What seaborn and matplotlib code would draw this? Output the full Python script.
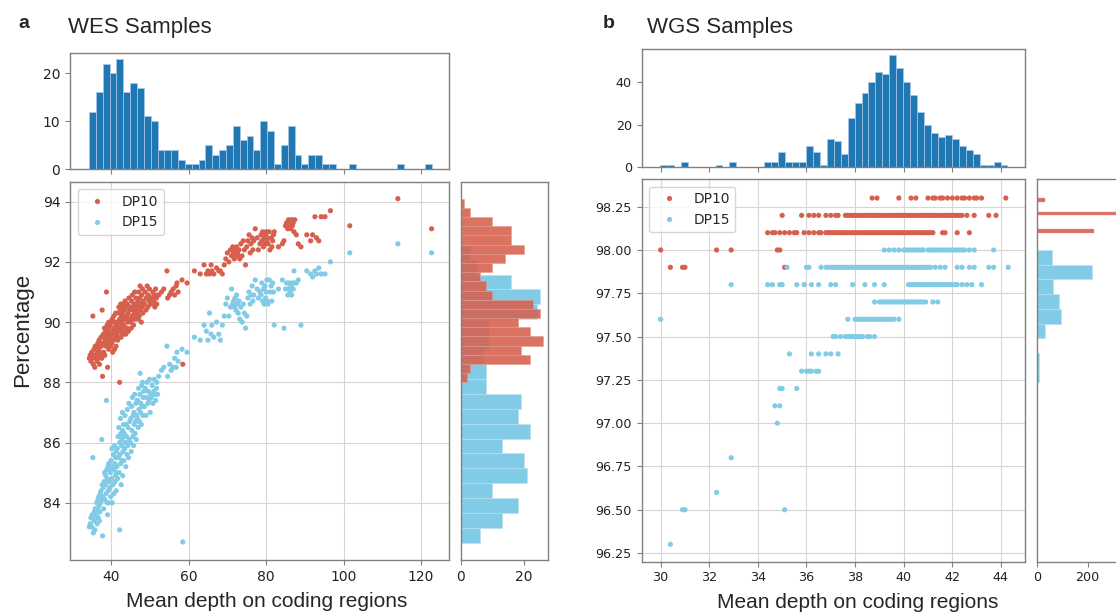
import numpy as np
import pandas as pd
import matplotlib
matplotlib.use("Agg")
import matplotlib.pyplot as plt
import seaborn as sns

RED = "#d6604d"
BLUE = "#82cbe6"
HIST = "#1f77b4"

# ---------------- WES samples ----------------
wes_depth = [
    34.4, 34.6, 34.8, 35.0, 35.1, 35.3, 35.4, 35.6, 35.7, 35.8, 35.9, 36.0,
    36.2, 36.3, 36.4, 36.5, 36.6, 36.7, 36.8, 36.9, 37.0, 37.1, 37.2, 37.3, 37.4, 37.5, 37.6, 37.7,
    37.8, 37.9, 38.0, 38.1, 38.2, 38.3, 38.4, 38.5, 38.6, 38.7, 38.8, 38.9, 39.0, 39.0, 39.1, 39.2, 39.3, 39.4, 39.4, 39.5, 39.5, 39.6,
    39.7, 39.8, 39.9, 40.0, 40.1, 40.2, 40.3, 40.4, 40.5, 40.6, 40.7, 40.8, 40.9, 41.0, 41.0, 41.1, 41.2, 41.3, 41.3, 41.4,
    41.5, 41.6, 41.7, 41.8, 41.9, 42.0, 42.1, 42.2, 42.2, 42.3, 42.4, 42.5, 42.5, 42.6, 42.7, 42.8, 42.8, 42.9, 43.0, 43.0, 43.1, 43.1, 43.2,
    43.3, 43.4, 43.5, 43.6, 43.7, 43.8, 43.9, 44.0, 44.1, 44.2, 44.3, 44.4, 44.5, 44.6, 44.7, 44.8,
    45.0, 45.1, 45.2, 45.3, 45.4, 45.5, 45.6, 45.7, 45.8, 45.9, 46.0, 46.1, 46.2, 46.3, 46.4, 46.5, 46.6, 46.7,
    46.8, 46.9, 47.0, 47.1, 47.2, 47.3, 47.4, 47.5, 47.6, 47.7, 47.8, 47.9, 48.0, 48.1, 48.2, 48.3, 48.4,
    48.6, 48.8, 49.0, 49.1, 49.3, 49.5, 49.6, 49.8, 49.9, 50.1, 50.2,
    50.4, 50.6, 50.8, 51.0, 51.1, 51.3, 51.5, 51.7, 51.8, 52.0,
    52.3, 53.0, 53.6, 54.4, 54.6, 55.1, 55.5, 56.0, 56.4, 56.8, 57.0, 57.3,
    58.3, 58.5, 59.6, 61.5, 63.0, 64.0,
    64.6, 65.0, 65.4, 65.8, 66.0, 66.5, 67.2, 67.8, 68.2, 68.7, 69.2, 69.6,
    70.0, 70.4, 70.8, 71.1, 71.4, 71.6, 71.8, 72.0, 72.2, 72.4, 72.6, 72.8, 73.0, 73.2,
    73.5, 73.8, 74.1, 74.4, 74.7, 75.0, 75.3, 75.6, 75.9, 76.1, 76.4, 76.6, 76.8,
    77.2, 77.7, 78.0, 78.4, 78.7, 78.9, 79.1, 79.3, 79.5, 79.7, 79.9, 80.0, 80.2, 80.3,
    80.5, 80.8, 81.0, 81.3, 81.5, 81.7, 81.9, 82.1, 83.2,
    84.2, 84.6, 85.0, 85.3, 85.6, 85.8, 86.0, 86.2, 86.4, 86.6, 86.8, 87.0, 87.2, 87.4,
    87.8, 88.3, 89.0, 90.5, 91.5, 92.0, 92.6, 93.0, 93.6, 94.2, 95.2, 96.6,
    101.6, 114.0, 122.7,
]
wes_dp10 = [
    88.8, 88.9, 88.7, 89.0, 88.8, 90.2, 88.6, 89.1, 88.9, 88.5, 89.2, 88.8,
    88.9, 89.2, 88.7, 89.0, 89.3, 88.8, 89.1, 89.4, 88.6, 89.0, 89.3, 88.9, 89.5, 89.2, 88.8, 90.4,
    88.2, 89.3, 89.6, 89.0, 89.5, 89.8, 88.9, 89.4, 89.7, 89.2, 91.0, 89.6, 89.9, 89.3, 88.5, 89.7, 89.5, 90.0, 89.1, 89.6, 89.8, 89.4,
    89.5, 89.9, 89.2, 90.0, 89.6, 89.3, 90.1, 89.0, 89.7, 89.4, 90.2, 89.8, 89.1, 90.0, 89.5, 89.7, 90.3, 89.2, 89.9, 89.6,
    89.6, 90.0, 89.4, 90.3, 89.8, 90.5, 89.5, 88.0, 90.1, 89.7, 90.4, 89.9, 90.6, 89.5, 90.2, 89.8, 90.0, 90.5, 89.6, 90.3, 89.9, 90.1, 90.6,
    89.9, 90.4, 89.7, 90.7, 90.1, 89.6, 90.5, 90.2, 89.8, 90.6, 90.0, 90.3, 89.7, 90.8, 90.1, 90.4,
    90.0, 90.5, 89.8, 90.7, 90.2, 90.9, 90.1, 90.4, 89.9, 90.6, 90.3, 91.0, 90.1, 90.5, 90.8, 90.2, 90.6, 90.4,
    90.3, 90.7, 90.1, 91.0, 90.5, 90.2, 90.8, 91.2, 90.4, 90.6, 90.0, 90.9, 90.5, 91.1, 90.3, 90.7, 90.6,
    90.6, 91.0, 90.4, 90.8, 91.2, 90.5, 90.9, 90.7, 91.1, 90.6, 90.8,
    90.8, 90.6, 91.0, 90.7, 90.9, 90.5, 91.1, 90.8, 90.6, 90.9,
    90.9, 91.0, 91.1, 91.7, 90.8, 90.9, 91.0, 91.1, 90.9, 91.2, 91.3, 91.0,
    91.4, 88.6, 91.3, 91.7, 91.6, 91.9,
    91.6, 91.7, 91.6, 91.9, 91.7, 91.6, 91.8, 91.7, 91.7, 91.6, 91.9, 92.1,
    92.3, 92.0, 92.4, 92.2, 92.5, 92.3, 92.1, 92.4, 92.2, 92.5, 92.3, 92.2, 92.4, 92.1,
    92.6, 92.2, 92.7, 92.4, 91.9, 92.5, 92.7, 92.9, 92.3, 92.6, 92.8, 92.4, 92.7,
    93.1, 92.8, 92.4, 92.6, 92.9, 92.7, 93.0, 92.5, 92.8, 92.6, 92.9, 93.0, 92.7, 92.8,
    92.6, 93.0, 92.4, 92.8, 92.5, 92.7, 92.9, 93.0, 92.5,
    92.6, 92.7, 93.2, 93.3, 93.1, 93.4, 93.2, 93.3, 93.1, 93.4, 93.2, 93.3, 93.0, 93.4,
    92.9, 92.6, 92.5, 92.9, 92.7, 92.9, 93.5, 92.8, 92.7, 93.5, 93.5, 93.7,
    93.2, 94.1, 93.1,
]
wes_dp15 = [
    83.2, 83.3, 83.5, 83.2, 83.6, 85.5, 83.0, 83.4, 83.7, 83.1, 83.8, 83.5,
    83.6, 84.0, 83.3, 83.8, 84.1, 83.5, 84.2, 83.9, 83.4, 83.7, 84.3, 84.0, 84.4, 84.1, 86.1, 84.6,
    82.9, 84.2, 84.5, 83.8, 84.7, 85.0, 84.1, 84.6, 84.9, 84.3, 87.4, 85.1, 84.0, 84.8, 83.6, 85.2, 84.4, 85.3, 84.0, 84.7, 85.1, 84.5,
    84.5, 85.0, 84.2, 85.4, 84.8, 85.8, 84.0, 85.2, 84.6, 85.6, 84.3, 85.1, 85.9, 84.7, 85.3, 84.9, 85.5, 84.4, 85.7, 85.0,
    85.2, 85.8, 84.8, 86.2, 85.5, 86.5, 85.0, 83.1, 86.0, 85.6, 86.8, 85.3, 86.3, 84.6, 85.9, 86.1, 85.4, 87.0, 84.9, 86.4, 85.7, 86.2, 86.6,
    85.4, 86.3, 85.8, 86.9, 86.0, 85.2, 86.6, 86.2, 85.6, 87.1, 85.9, 86.5, 85.5, 87.3, 86.1, 86.7,
    86.0, 86.8, 85.7, 87.2, 86.4, 87.5, 86.2, 86.9, 85.9, 87.0, 86.6, 87.6, 86.3, 86.7, 87.3, 86.1, 86.9, 87.4,
    86.8, 87.4, 86.5, 87.8, 87.1, 86.7, 87.6, 88.3, 87.0, 87.3, 86.6, 87.9, 87.2, 88.0, 86.9, 87.5, 87.7,
    87.2, 87.8, 86.9, 87.5, 88.0, 87.3, 87.7, 87.4, 88.1, 87.0, 87.6,
    87.5, 87.9, 87.3, 87.7, 88.1, 87.6, 87.4, 87.8, 88.0, 87.6,
    88.2, 88.4, 88.5, 89.2, 88.2, 88.6, 88.4, 88.5, 88.8, 88.5, 89.0, 88.7,
    89.1, 82.7, 89.0, 89.5, 89.4, 89.9,
    89.7, 89.4, 90.3, 89.6, 89.9, 89.5, 90.0, 89.6, 89.4, 89.9, 90.2, 90.6,
    90.8, 90.2, 90.5, 91.1, 90.6, 90.7, 90.5, 90.8, 90.4, 90.9, 90.6, 90.3, 90.7, 90.1,
    90.5, 90.0, 90.6, 90.3, 89.8, 90.2, 90.8, 91.0, 90.6, 90.9, 91.2, 90.7, 90.9,
    91.4, 91.1, 90.8, 91.0, 90.9, 91.3, 90.7, 91.1, 90.6, 91.2, 90.8, 91.0, 91.4, 90.7,
    90.6, 91.4, 91.0, 91.2, 90.7, 91.3, 91.0, 89.9, 91.1,
    91.4, 89.8, 91.1, 91.3, 90.9, 91.1, 91.3, 91.0, 91.2, 90.9, 91.3, 91.1, 91.7, 91.3,
    91.3, 91.4, 89.9, 91.7, 91.6, 91.5, 91.7, 91.6, 91.8, 91.6, 91.6, 92.0,
    92.3, 92.6, 92.3,
]

# histogram counts
wes_depth_counts = [12, 16, 22, 20, 23, 16, 18, 17, 11, 10, 4, 4, 4, 2, 1, 1, 2, 5, 3, 4,
                    5, 9, 6, 7, 4, 10, 8, 1, 5, 9, 3, 1, 3, 3, 1, 1, 0, 0, 1, 0,
                    0, 0, 0, 0, 0, 1, 0, 0, 0, 1]
wes_dp10_counts = [2, 3, 22, 19, 26, 22, 18, 25, 23, 10, 8, 6, 10, 14, 20, 16, 16, 10, 3, 1]
wes_dp15_counts = [6, 13, 18, 10, 21, 20, 13, 22, 18, 19, 8, 8, 7, 9, 9, 24, 25, 16, 5, 3]

# ---------------- WGS samples (values sit on 0.1 steps) ----------------
wgs_dp10_983 = [38.7, 38.9, 39.8, 40.3, 40.5, 41.0, 41.2, 41.3, 41.5, 41.6, 41.8, 42.0, 42.2,
                42.4, 42.5, 42.7, 42.9, 43.0, 43.2, 44.2]
wgs_dp10_982 = [35.0, 35.8, 36.1, 36.3, 36.5, 36.8, 37.0, 37.2, 37.3,
                37.6, 37.7, 37.8, 37.9, 38.0, 38.1, 38.2, 38.3, 38.4, 38.5, 38.6, 38.7, 38.8, 38.9,
                39.0, 39.1, 39.2, 39.3, 39.4, 39.5, 39.6, 39.7, 39.8, 39.9, 40.0, 40.1, 40.2, 40.3,
                40.4, 40.5, 40.6, 40.7, 40.8, 40.9, 41.0, 41.1, 41.2, 41.3, 41.4, 41.5, 41.6, 41.7,
                41.8, 41.9, 42.0, 42.1, 42.2, 42.3, 42.4, 42.6, 42.9, 43.5, 43.8]
wgs_dp10_981 = [34.4, 34.6, 34.7, 34.9, 35.1, 35.3, 35.5, 35.6, 35.9, 36.1, 36.3, 36.5, 36.6,
                36.8, 36.9, 37.0, 37.1, 37.2, 37.3, 37.4, 37.5, 37.6, 37.7, 37.8, 37.9, 38.0, 38.1,
                38.2, 38.3, 38.4, 38.5, 38.6, 38.7, 38.8, 38.9, 39.0, 39.1, 39.2, 39.3, 39.4, 39.5,
                39.6, 39.7, 39.8, 39.9, 40.0, 40.1, 40.2, 40.3, 40.4, 40.5, 40.6, 40.7, 40.8, 40.9,
                41.0, 41.1, 41.2, 41.6, 41.7, 42.2, 42.7]
wgs_dp10_980 = [30.0, 32.3, 32.9, 34.8, 34.9]
wgs_dp10_979 = [30.4, 30.9, 31.0, 35.1]

wgs_dp15_980 = [39.2, 39.4, 39.6, 39.8, 40.0, 40.1, 40.2, 40.3, 40.4, 40.5, 40.6, 40.7, 40.8,
                41.0, 41.1, 41.2, 41.3, 41.4, 41.5, 41.6, 41.7, 41.8, 41.9, 42.0, 42.1, 42.2, 42.3,
                42.4, 42.5, 42.7, 42.9, 43.7]
wgs_dp15_979 = [35.2, 36.0, 36.1, 36.6, 36.8, 36.9, 37.0, 37.1, 37.2, 37.3, 37.4, 37.5, 37.6,
                37.7, 37.8, 37.9, 38.0, 38.1, 38.2, 38.3, 38.4, 38.5, 38.6, 38.7, 38.8, 38.9, 39.0,
                39.1, 39.2, 39.3, 39.4, 39.5, 39.6, 39.7, 39.8, 39.9, 40.0, 40.1, 40.2, 40.3, 40.4,
                40.5, 40.6, 40.7, 40.8, 40.9, 41.0, 41.1, 41.3, 41.5, 41.7, 42.2, 42.4, 42.7, 42.9,
                43.5, 43.7, 44.3]
wgs_dp15_978 = [32.9, 34.4, 34.6, 34.9, 35.0, 35.6, 35.9, 36.2, 36.5, 37.0, 37.2, 37.9, 38.4,
                38.8, 39.2, 40.2, 40.3, 40.4, 40.5, 40.6, 40.7, 40.8, 40.9, 41.0, 41.1, 41.2, 41.3,
                41.4, 41.5, 41.6, 41.7, 41.8, 41.9, 42.0, 42.1, 42.2, 42.4, 42.6, 42.8, 43.2]
wgs_dp15_977 = [38.8, 39.0, 39.1, 39.2, 39.3, 39.4, 39.5, 39.6, 39.7, 39.8, 39.9, 40.0, 40.1,
                40.2, 40.3, 40.4, 40.5, 40.6, 40.7, 40.8, 40.9, 41.2, 41.4]
wgs_dp15_976 = [30.0, 37.7, 38.0, 38.1, 38.2, 38.3, 38.4, 38.5, 38.6, 38.7, 38.8, 38.9, 39.0,
                39.1, 39.2, 39.3, 39.4, 39.5, 39.6, 39.8]
wgs_dp15_975 = [37.1, 37.2, 37.4, 37.6, 37.7, 37.8, 37.9, 38.0, 38.1, 38.2, 38.3, 38.5, 38.6, 38.8]
wgs_dp15_974 = [35.3, 36.2, 36.5, 36.8, 37.0, 37.3]
wgs_dp15_973 = [35.8, 36.0, 36.1, 36.2, 36.4, 36.5]
wgs_dp15_972 = [34.9, 35.0, 35.6]
wgs_dp15_971 = [34.7, 34.9]
wgs_dp15_970 = [34.8]
wgs_dp15_968 = [32.9]
wgs_dp15_966 = [32.3]
wgs_dp15_965 = [30.9, 31.0, 35.1]
wgs_dp15_963 = [30.4]

wgs_depth_counts = [1, 1, 0, 2, 0, 0, 0, 0, 1, 0, 2, 0, 0, 0, 0, 2, 2, 7, 2, 2,
                    2, 10, 7, 1, 13, 12, 6, 23, 30, 35, 40, 45, 44, 53, 47, 40, 34, 26, 20, 16,
                    14, 15, 13, 10, 8, 6, 1, 1, 2, 1]
wgs_dp10_levels = [97.9, 98.0, 98.1, 98.2, 98.3]
wgs_dp10_counts = [4, 6, 225, 329, 33]
wgs_dp15_levels = [96.3, 96.5, 96.6, 96.8, 97.0, 97.1, 97.2, 97.3, 97.4, 97.5, 97.6, 97.7, 97.8, 97.9, 98.0]
wgs_dp15_counts = [1, 3, 1, 1, 1, 3, 3, 8, 10, 33, 94, 89, 65, 217, 60]

# ---------------- tidy frames ----------------
wes_df = pd.concat([
    pd.DataFrame({"depth": wes_depth, "pct": wes_dp10, "metric": "DP10"}),
    pd.DataFrame({"depth": wes_depth, "pct": wes_dp15, "metric": "DP15"}),
])

wgs_rows = [("DP10", 98.3, wgs_dp10_983), ("DP10", 98.2, wgs_dp10_982), ("DP10", 98.1, wgs_dp10_981),
            ("DP10", 98.0, wgs_dp10_980), ("DP10", 97.9, wgs_dp10_979),
            ("DP15", 98.0, wgs_dp15_980), ("DP15", 97.9, wgs_dp15_979), ("DP15", 97.8, wgs_dp15_978),
            ("DP15", 97.7, wgs_dp15_977), ("DP15", 97.6, wgs_dp15_976), ("DP15", 97.5, wgs_dp15_975),
            ("DP15", 97.4, wgs_dp15_974), ("DP15", 97.3, wgs_dp15_973), ("DP15", 97.2, wgs_dp15_972),
            ("DP15", 97.1, wgs_dp15_971), ("DP15", 97.0, wgs_dp15_970), ("DP15", 96.8, wgs_dp15_968),
            ("DP15", 96.6, wgs_dp15_966), ("DP15", 96.5, wgs_dp15_965), ("DP15", 96.3, wgs_dp15_963)]
wgs_df = pd.concat([pd.DataFrame({"depth": xs, "pct": lvl, "metric": m}) for m, lvl, xs in wgs_rows])

# ---------------- figure ----------------
sns.set_style("whitegrid", {"axes.edgecolor": "#808080", "grid.color": "#d6d6d6",
                            "xtick.bottom": True, "ytick.left": True})
plt.rcParams["font.family"] = ["DejaVu Sans"]

W, H = 1116, 615
fig = plt.figure(figsize=(W / 100, H / 100), dpi=100)


def box(l, t, r, b):
    return [l / W, 1 - b / H, (r - l) / W, (b - t) / H]


ax_a_top = fig.add_axes(box(70, 53.3, 449, 169.3))
ax_a = fig.add_axes(box(70, 181.5, 449, 560))
ax_a_r = fig.add_axes(box(460.7, 181.5, 547.7, 560))
ax_b_top = fig.add_axes(box(641.7, 49.3, 1025, 166.7))
ax_b = fig.add_axes(box(641.7, 179, 1025, 561.7))
ax_b_r = fig.add_axes(box(1036.7, 179, 1123.7, 561.7))

pal = {"DP10": RED, "DP15": BLUE}
for ax, df in [(ax_a, wes_df), (ax_b, wgs_df)]:
    sns.scatterplot(data=df, x="depth", y="pct", hue="metric", palette=pal,
                    s=14, linewidth=0, ax=ax)
    h, l = ax.get_legend_handles_labels()
    ax.legend(h, l, loc="upper left", fontsize=9.9, borderaxespad=0.55)
    ax.set_xlabel("")
    ax.set_ylabel("")

# panel a limits / ticks
ax_a.set_xlim(29.4, 127.2)
ax_a.set_ylim(82.1, 94.67)
ax_a.set_xticks([40, 60, 80, 100, 120])
ax_a.set_yticks([84, 86, 88, 90, 92, 94])

# panel b limits / ticks
ax_b.set_xlim(29.22, 44.99)
ax_b.set_ylim(96.2, 98.41)
ax_b.set_xticks([30, 32, 34, 36, 38, 40, 42, 44])
ax_b.set_yticks([96.25, 96.5, 96.75, 97.0, 97.25, 97.5, 97.75, 98.0, 98.25])
ax_b.set_yticklabels([f"{v:.2f}" for v in ax_b.get_yticks()])

# top histograms
wes_edges = list(np.linspace(34.3, 122.7, 51))
wgs_edges = list(np.linspace(29.97, 44.27, 51))
for ax, edges, counts, main in [(ax_a_top, wes_edges, wes_depth_counts, ax_a),
                                (ax_b_top, wgs_edges, wgs_depth_counts, ax_b)]:
    centers = [(a + b) / 2 for a, b in zip(edges[:-1], edges[1:])]
    sns.histplot(x=centers, weights=counts, bins=edges, color=HIST, alpha=1,
                 edgecolor="#a9c9e6", linewidth=0.5, ax=ax)
    ax.set_xlim(main.get_xlim())
    ax.set_xticks(main.get_xticks())
    ax.tick_params(labelbottom=False)
    ax.grid(False)
    ax.set_xlabel("")
    ax.set_ylabel("")
ax_a_top.set_ylim(0, 24.15)
ax_a_top.set_yticks([0, 10, 20])
ax_b_top.set_ylim(0, 55.65)
ax_b_top.set_yticks([0, 20, 40])

# right histograms, panel a
e15 = list(np.linspace(82.67, 92.57, 21))
e10 = list(np.linspace(88.0, 94.1, 21))
c15 = [(a + b) / 2 for a, b in zip(e15[:-1], e15[1:])]
c10 = [(a + b) / 2 for a, b in zip(e10[:-1], e10[1:])]
sns.histplot(y=c15, weights=wes_dp15_counts, bins=e15, color=BLUE,
             alpha=1, edgecolor="#b9e2f1", linewidth=0.4, ax=ax_a_r)
sns.histplot(y=c10, weights=wes_dp10_counts, bins=e10, color=RED,
             alpha=0.88, edgecolor="#e39a8c", linewidth=0.4, ax=ax_a_r)
ax_a_r.set_ylim(ax_a.get_ylim())
ax_a_r.set_xlim(0, 27.5)
ax_a_r.set_xticks([0, 20])

# right histograms, panel b
sns.histplot(y=wgs_dp15_levels, weights=wgs_dp15_counts, bins=20, color=BLUE,
             alpha=1, edgecolor="#b9e2f1", linewidth=0.4, ax=ax_b_r)
sns.histplot(y=wgs_dp10_levels, weights=wgs_dp10_counts, bins=20, color=RED,
             alpha=0.9, edgecolor="#e39a8c", linewidth=0.3, ax=ax_b_r)
ax_b_r.set_ylim(ax_b.get_ylim())
ax_b_r.set_xlim(0, 341)
ax_b_r.set_xticks([0, 200])

for ax in [ax_a_r, ax_b_r]:
    ax.grid(False)
    ax.set_yticks([])
    ax.set_xlabel("")
    ax.set_ylabel("")

for ax in [ax_a_top, ax_a, ax_a_r]:
    ax.tick_params(length=3.5, width=0.8, color="#808080", labelcolor="#222222", labelsize=10)
for ax in [ax_b_top, ax_b, ax_b_r]:
    ax.tick_params(length=3.5, width=0.8, color="#808080", labelcolor="#222222", labelsize=9.2)
for ax in fig.axes:
    for sp in ax.spines.values():
        sp.set_linewidth(1.0)

# labels
lab = ["Liberation Sans", "DejaVu Sans"]
fig.text(18 / W, 1 - 28 / H, "a", fontsize=14, fontweight="bold", family=lab, va="baseline")
fig.text(68 / W, 1 - 33.5 / H, "WES Samples", fontsize=16, family=lab, va="baseline")
fig.text(603 / W, 1 - 28 / H, "b", fontsize=14, fontweight="bold", family=lab, va="baseline")
fig.text(647 / W, 1 - 33.5 / H, "WGS Samples", fontsize=16, family=lab, va="baseline")
fig.text(23 / W, 1 - 330 / H, "Percentage", fontsize=16, family=lab, rotation=90,
         ha="center", va="center")
fig.text(267 / W, 1 - 607 / H, "Mean depth on coding regions", fontsize=15, family=lab,
         ha="center", va="baseline")
fig.text(858 / W, 1 - 608 / H, "Mean depth on coding regions", fontsize=15, family=lab,
         ha="center", va="baseline")

fig.savefig("out.png", dpi=100)
